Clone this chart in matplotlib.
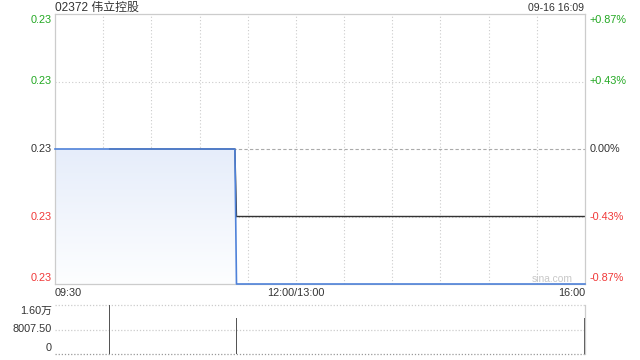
import matplotlib
matplotlib.use("Agg")
import matplotlib.pyplot as plt
import matplotlib.transforms as mtransforms
from matplotlib.colors import LinearSegmentedColormap
import numpy as np

plt.rcParams["font.family"] = ["Liberation Sans", "Noto Sans CJK SC", "DejaVu Sans"]

# ---- data ----
title = "02372 伟立控股"
stamp = "09-16 16:09"
prev_close = 0.230
price_max = 0.232
price_min = 0.228

price_times = ["09:30", "11:22", "11:23", "16:00"]
prices = [0.230, 0.230, 0.228, 0.228]

avg_times = ["10:04", "11:22", "11:23", "16:00"]
avg_prices = [0.230, 0.230, 0.229, 0.229]

vol_times = ["10:04", "11:23", "16:00"]
volumes = [16015, 11800, 11800]
vol_max = 16015

price_ticks = [0.232, 0.231, 0.230, 0.229, 0.228]
time_labels = ["09:30", "12:00/13:00", "16:00"]


def to_min(t):
    h, m = map(int, t.split(":"))
    total = h * 60 + m
    if total <= 12 * 60:
        return total - (9 * 60 + 30)
    return 150 + total - 13 * 60


T_END = to_min("16:00")

GREEN = "#22a822"
RED = "#f03838"
DARK = "#333333"
GRID = "#cccccc"

fig = plt.figure(figsize=(6.4, 3.6), dpi=100)
ax = fig.add_axes([55 / 640, 76 / 360, 530 / 640, 270 / 360])
ax2 = fig.add_axes([55 / 640, 6 / 360, 530 / 640, 49 / 360])

ax.set_xlim(0, T_END)
ax.set_ylim(price_min, price_max)
for s in ax.spines.values():
    s.set_color(GRID)
    s.set_linewidth(0.9)
ax.set_xticks([])
ax.set_yticks([])

# grid
for m in range(30, T_END, 30):
    ax.axvline(m, color=GRID, lw=0.8, ls=(0, (1, 2)), zorder=0)
for p in price_ticks[1:-1]:
    if abs(p - prev_close) < 1e-9:
        ax.axhline(p, color="#aaaaaa", lw=0.8, ls=(0, (3, 2)), zorder=0)
    else:
        ax.axhline(p, color=GRID, lw=0.8, ls=(0, (1, 2)), zorder=0)

px = [to_min(t) for t in price_times]
ax_avg = [to_min(t) for t in avg_times]

# gradient fill under price line
poly = ax.fill_between(px, prices, price_min, color="none", lw=0)
cmap = LinearSegmentedColormap.from_list("fillgrad", ["#fdfeff", "#e6edfa"])
grad = np.linspace(0, 1, 256).reshape(-1, 1)
im = ax.imshow(grad, extent=[0, T_END, price_min, prev_close], origin="lower",
               aspect="auto", cmap=cmap, zorder=1, interpolation="bilinear")
im.set_clip_path(poly.get_paths()[0], transform=ax.transData)
ax.set_xlim(0, T_END)
ax.set_ylim(price_min, price_max)

ax.plot(ax_avg, avg_prices, color=DARK, lw=1.0, zorder=2)
ax.plot(px, prices, color="#4f82d9", lw=1.2, zorder=3, clip_on=False)

ax.text(1 - 12 / 530, price_min, "sina.com",
        transform=mtransforms.blended_transform_factory(ax.transAxes, ax.transData),
        ha="right", va="bottom", fontsize=7.4, color="#c8c8c8", zorder=4)

# y labels
blend_l = mtransforms.blended_transform_factory(ax.transAxes, ax.transData)
for i, p in enumerate(price_ticks):
    if p > prev_close + 1e-9:
        c = GREEN
    elif p < prev_close - 1e-9:
        c = RED
    else:
        c = DARK
    pct = (p - prev_close) / prev_close * 100
    pct_s = "0.00%" if abs(pct) < 1e-9 else f"{pct:+.2f}%"
    dy = 0
    if i == 0:
        dy = -6
    elif i == len(price_ticks) - 1:
        dy = 6
    tl = mtransforms.offset_copy(blend_l, fig=fig, x=-3, y=dy, units="dots")
    tr = mtransforms.offset_copy(blend_l, fig=fig, x=4.5, y=dy, units="dots")
    ax.text(0, p, f"{p:.2f}", transform=tl, ha="right", va="center",
            fontsize=7.8, color=c, clip_on=False)
    ax.text(1, p, pct_s, transform=tr, ha="left", va="center",
            fontsize=7.8, color=c, clip_on=False)

# x labels
blend_x = mtransforms.blended_transform_factory(ax.transData, ax.transAxes)
tx = mtransforms.offset_copy(blend_x, fig=fig, x=0, y=-9, units="dots")
label_x = [0, 150, T_END]
aligns = ["left", "center", "right"]
for lx, lab, ha in zip(label_x, time_labels, aligns):
    ax.text(lx, 0, lab, transform=tx, ha=ha, va="center", fontsize=7.8,
            color=DARK, clip_on=False)

# header
fig.text(55 / 640, 1 - 8 / 360, title, ha="left", va="center", fontsize=8.6, color=DARK)
fig.text(584 / 640, 1 - 8 / 360, stamp, ha="right", va="center", fontsize=7.6, color=DARK)

# volume panel
ax2.set_xlim(0, T_END)
ax2.set_ylim(0, vol_max)
for k in ["left", "top", "bottom"]:
    ax2.spines[k].set_visible(False)
ax2.spines["right"].set_color(GRID)
ax2.spines["right"].set_linewidth(0.9)
ax2.set_xticks([])
ax2.set_yticks([])
ax2.axhline(vol_max, color=GRID, lw=0.9, ls=(0, (1, 1.5)), zorder=0, clip_on=False)
ax2.axhline(vol_max / 2, color=GRID, lw=0.9, ls=(0, (1, 1.5)), zorder=0)
ax2.axhline(0, color="#999999", lw=0.9, ls=(0, (1, 1.5)), zorder=0, clip_on=False)
ax2.bar([to_min(t) for t in vol_times], volumes, width=0.8, color="#555555", lw=0, zorder=2)

vlabels = [f"{vol_max / 10000:.2f}万", f"{vol_max / 2:.2f}", "0"]
vvals = [vol_max, vol_max / 2, 0]
vdy = [-6, 0, 6]
blend_v = mtransforms.blended_transform_factory(ax2.transAxes, ax2.transData)
for v, lab, dy in zip(vvals, vlabels, vdy):
    tv = mtransforms.offset_copy(blend_v, fig=fig, x=-3, y=dy, units="dots")
    ax2.text(0, v, lab, transform=tv, ha="right", va="center", fontsize=7.8,
             color=DARK, clip_on=False)

fig.savefig("out.png", dpi=100)
